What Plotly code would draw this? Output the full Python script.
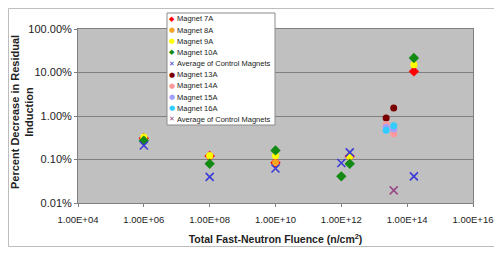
import plotly.graph_objects as go

# ---------------- data (percent decrease in residual induction) ----------------
fluence_a = [1e6, 1e8, 1e10, 1e12, 1.8e12, 1.6e14]
magnet_7a = [0.31, 0.12, 0.084, None, 0.118, 10.6]
magnet_8a = [0.31, 0.12, 0.084, None, 0.118, 15.0]
magnet_9a = [0.33, 0.124, 0.122, None, 0.118, 15.0]
magnet_10a = [0.27, 0.080, 0.162, 0.041, 0.080, 21.5]
control_avg_a = [0.21, 0.040, 0.062, 0.083, 0.146, 0.041]

fluence_b = [2.3e13, 3.9e13]
magnet_13a = [0.90, 1.53]
magnet_14a = [0.63, 0.39]
magnet_15a = [0.55, 0.50]
magnet_16a = [0.47, 0.60]
control_avg_b = [None, 0.0195]

x_tickvals = [1e4, 1e6, 1e8, 1e10, 1e12, 1e14, 1e16]
x_ticktext = ["1.00E+04", "1.00E+06", "1.00E+08", "1.00E+10", "1.00E+12", "1.00E+14", "1.00E+16"]
y_tickvals = [0.01, 0.1, 1, 10, 100]
y_ticktext = ["0.01%", "0.10%", "1.00%", "10.00%", "100.00%"]

series = [
    ("Magnet 7A", fluence_a, magnet_7a, "#ff0000", "diamond", "◆"),
    ("Magnet 8A", fluence_a, magnet_8a, "#f5a623", "circle", "●"),
    ("Magnet 9A", fluence_a, magnet_9a, "#ffff00", "circle", "●"),
    ("Magnet 10A", fluence_a, magnet_10a, "#138a13", "diamond", "◆"),
    ("Average of Control Magnets", fluence_a, control_avg_a, "#3a3ad8", "x-thin", "✕"),
    ("Magnet 13A", fluence_b, magnet_13a, "#7a0000", "circle", "●"),
    ("Magnet 14A", fluence_b, magnet_14a, "#ff9999", "circle", "●"),
    ("Magnet 15A", fluence_b, magnet_15a, "#a0a0ff", "circle", "●"),
    ("Magnet 16A", fluence_b, magnet_16a, "#33ccff", "circle", "●"),
    ("Average of Control Magnets", fluence_b, control_avg_b, "#9a4a86", "x-thin", "✕"),
]

FONT = "Liberation Sans, Arial, sans-serif"
OFF = 8  # page body margin
W, H = 502 - 2 * OFF, 255 - 2 * OFF   # fit inside the page body
ML, MT = 78 - OFF, 29 - OFF
MR = W - (473 - OFF)
MB = H - (203 - OFF)
PW, PH = W - ML - MR, H - MT - MB


def px(x):
    """window pixel x -> paper x"""
    return (x - OFF - ML) / PW


def py(y):
    """window pixel y -> paper y"""
    return (H - MB - (y - OFF)) / PH


fig = go.Figure()
for name, xs, ys, color, sym, _ in series:
    if sym == "x-thin":
        marker = dict(symbol=sym, size=8, color=color, line=dict(color=color, width=1.6))
    elif sym == "diamond":
        marker = dict(symbol=sym, size=8, color=color, line=dict(width=0))
    else:
        marker = dict(symbol=sym, size=7, color=color, line=dict(width=0))
    fig.add_trace(go.Scatter(x=xs, y=ys, mode="markers", name=name, marker=marker,
                             showlegend=False, cliponaxis=False))

fig.update_layout(
    width=W, height=H,
    margin=dict(l=ML, r=MR, t=MT, b=MB, autoexpand=False),
    paper_bgcolor="white", plot_bgcolor="#c0c0c0",
    font=dict(family=FONT, color="#222"),
    showlegend=False,
)
fig.update_xaxes(
    type="log", range=[4, 16], tickvals=x_tickvals, ticktext=x_ticktext,
    showgrid=False, zeroline=False, showline=True, linecolor="#808080", linewidth=1,
    mirror=True, ticks="outside", ticklen=3, tickcolor="#808080",
    tickfont=dict(size=9.5, color="#222"), ticklabelstandoff=5,
    title=dict(text="<b>Total Fast-Neutron Fluence (n/cm<sup>2</sup>)</b>",
               font=dict(size=10.5, color="#222"), standoff=11),
)
fig.update_yaxes(
    type="log", range=[-2, 2], tickvals=y_tickvals, ticktext=y_ticktext,
    showgrid=True, gridcolor="#808080", gridwidth=1, zeroline=False,
    showline=True, linecolor="#808080", linewidth=1, mirror=True,
    ticks="outside", ticklen=3, tickcolor="#808080",
    tickfont=dict(size=11, color="#222"),
)

# y-axis title
fig.add_annotation(xref="paper", yref="paper", x=px(22), y=py(112), xanchor="center", yanchor="middle",
                   text="<b>Percent Decrease in Residual<br>Induction</b>", textangle=-90,
                   showarrow=False, font=dict(size=11, color="#222", family=FONT))

# outer chart border (left, top, bottom; right edge lies beyond the window)
fig.add_shape(type="rect", xref="paper", yref="paper", x0=px(8.5), x1=px(520), y0=py(246.5), y1=py(8.5),
              line=dict(color="#bdbdbd", width=1), fillcolor="rgba(0,0,0,0)", layer="above")

# legend box
fig.add_shape(type="rect", xref="paper", yref="paper", x0=px(167), x1=px(275), y0=py(125), y1=py(13),
              line=dict(color="#8c8c8c", width=1), fillcolor="white", layer="above")
for i, (name, xs, ys, color, sym, glyph) in enumerate(series):
    yy = 19 + 11.15 * i
    fig.add_annotation(xref="paper", yref="paper", x=px(171.5), y=py(yy), xanchor="center", yanchor="middle",
                       text=glyph, showarrow=False,
                       font=dict(size=7, color=color, family="DejaVu Sans"))
    fig.add_annotation(xref="paper", yref="paper", x=px(175), y=py(yy), xanchor="left", yanchor="middle",
                       text=name, showarrow=False, font=dict(size=7.5, color="#222", family=FONT))

fig.write_html("out.html")
